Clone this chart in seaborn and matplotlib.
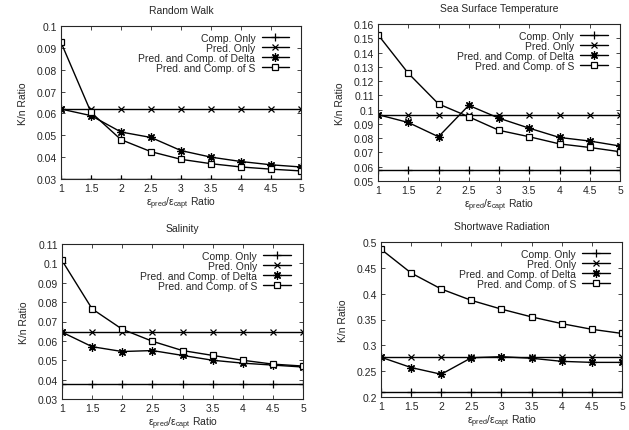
import numpy as np
import pandas as pd
import matplotlib
matplotlib.use("Agg")
import matplotlib.pyplot as plt
import seaborn as sns

ratios = [1, 1.5, 2, 2.5, 3, 3.5, 4, 4.5, 5]
series_names = ["Comp. Only", "Pred. Only", "Pred. and Comp. of Delta", "Pred. and Comp. of S"]

# Random Walk
rw_comp = [0.0302] * 9
rw_pred = [0.062] * 9
rw_delta = [0.062, 0.059, 0.0515, 0.049, 0.043, 0.040, 0.038, 0.0365, 0.0355]
rw_s = [0.0925, 0.0605, 0.048, 0.0425, 0.039, 0.037, 0.0355, 0.0345, 0.0337]

# Sea Surface Temperature
sst_comp = [0.058] * 9
sst_pred = [0.0965] * 9
sst_delta = [0.0965, 0.091, 0.081, 0.103, 0.094, 0.087, 0.0805, 0.078, 0.0745]
sst_s = [0.1525, 0.1255, 0.104, 0.095, 0.0855, 0.081, 0.076, 0.0735, 0.0705]

# Salinity
sal_comp = [0.038] * 9
sal_pred = [0.0645] * 9
sal_delta = [0.0645, 0.057, 0.0545, 0.055, 0.0525, 0.050, 0.0485, 0.0475, 0.0465]
sal_s = [0.1015, 0.0765, 0.066, 0.0598, 0.055, 0.0525, 0.050, 0.048, 0.047]

# Shortwave Radiation
sw_comp = [0.21] * 9
sw_pred = [0.277] * 9
sw_delta = [0.277, 0.257, 0.244, 0.276, 0.278, 0.275, 0.269, 0.267, 0.267]
sw_s = [0.486, 0.44, 0.409, 0.387, 0.37, 0.355, 0.342, 0.331, 0.323]

panels = [
    ("Random Walk", [rw_comp, rw_pred, rw_delta, rw_s], (0.03, 0.1), np.arange(0.03, 0.1001, 0.01)),
    ("Sea Surface Temperature", [sst_comp, sst_pred, sst_delta, sst_s], (0.05, 0.16), np.arange(0.05, 0.1601, 0.01)),
    ("Salinity", [sal_comp, sal_pred, sal_delta, sal_s], (0.03, 0.11), np.arange(0.03, 0.1101, 0.01)),
    ("Shortwave Radiation", [sw_comp, sw_pred, sw_delta, sw_s], (0.2, 0.5), np.arange(0.2, 0.5001, 0.05)),
]

sns.set_style("ticks")
plt.rcParams["font.family"] = ["Liberation Sans", "DejaVu Sans"]
plt.rcParams["font.size"] = 7.5

markers = ["+", "x", (8, 2, 0), "s"]
msizes = [6, 5, 6, 5]

fig = plt.figure(figsize=(6.29, 4.31), dpi=100)
# axes rectangles in pixel coords: left, top, right, bottom
rects = [(61, 27, 301, 180), (378, 25, 620, 182), (62, 245, 303, 400), (381, 243, 622, 398)]
W, H = 629, 431

def fmt(v, pos):
    return ("%.3f" % v).rstrip("0").rstrip(".")

for (title, vals, ylim, yticks), (l, t, r, b) in zip(panels, rects):
    ax = fig.add_axes([l / W, 1 - b / H, (r - l) / W, (b - t) / H])
    rows = []
    for name, v in zip(series_names, vals):
        for x, y in zip(ratios, v):
            rows.append({"ratio": x, "kn": y, "series": name})
    df = pd.DataFrame(rows)
    for name, m, ms in zip(series_names, markers, msizes):
        sub = df[df["series"] == name]
        sns.lineplot(data=sub, x="ratio", y="kn", ax=ax, color="black", lw=1.0,
                     marker=m, markersize=ms, markerfacecolor="white" if m == "s" else "black",
                     markeredgecolor="black", markeredgewidth=0.9, label=name)
    ax.set_xlim(1, 5)
    ax.set_ylim(*ylim)
    ax.set_xticks(ratios)
    ax.set_yticks(yticks)
    ax.xaxis.set_major_formatter(plt.FuncFormatter(fmt))
    ax.yaxis.set_major_formatter(plt.FuncFormatter(fmt))
    ax.tick_params(direction="in", top=True, right=True, length=3, width=0.6, labelsize=7.5, pad=3)
    for sp in ax.spines.values():
        sp.set_linewidth(0.8)
        sp.set_visible(True)
    ax.set_title(title, fontsize=7.5, pad=9)
    ax.set_ylabel("K/n Ratio", fontsize=7.5, labelpad=6)
    ax.set_xlabel(r"$\mathregular{\epsilon_{pred}/\epsilon_{capt}}$ Ratio", fontsize=7.5, labelpad=1)
    ax.legend(loc="upper right", bbox_to_anchor=(0.97, 0.99), frameon=False, markerfirst=False,
              fontsize=7.5, handlelength=2.6, labelspacing=0.0, borderaxespad=0.1, handletextpad=0.6)

fig.savefig("out.png", dpi=100)
